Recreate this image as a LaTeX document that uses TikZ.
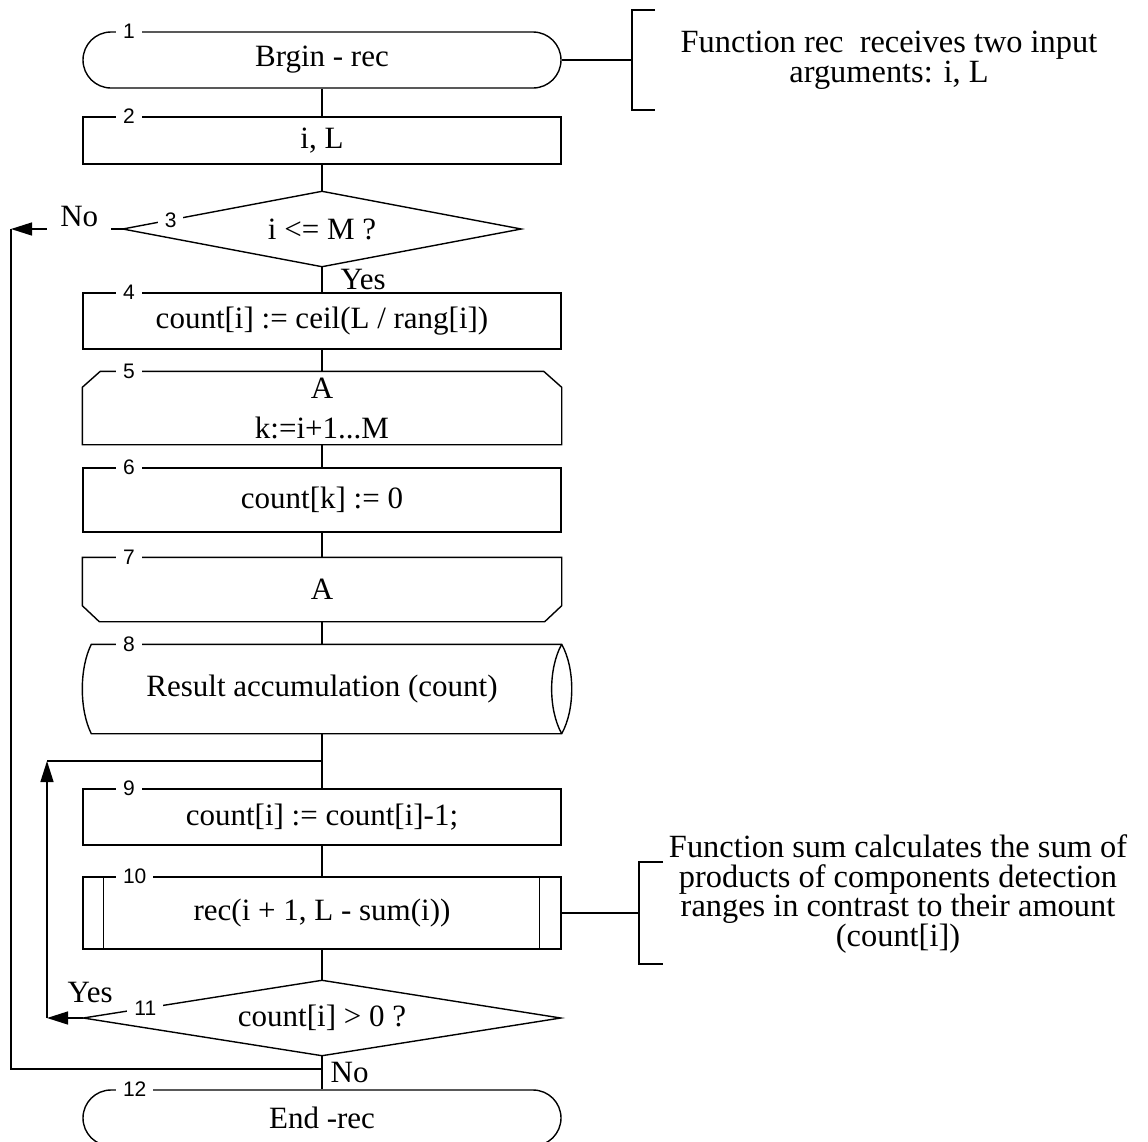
\documentclass[tikz,border=0pt]{standalone}
\usepackage{fontspec}
\setmainfont{Liberation Serif}
\newfontfamily\numfont{Liberation Sans}
\usetikzlibrary{arrows.meta,calc}

\newcommand\boxfont{\fontsize{15.5pt}{20pt}\selectfont}
\newcommand\notefont{\fontsize{16.2pt}{14.8pt}\selectfont}
\newcommand\tagfont{\numfont\fontsize{10.5pt}{11pt}\selectfont}

\begin{document}
\begin{tikzpicture}[x=0.5pt,y=-0.5pt,line width=0.7pt,>={Triangle[length=10.5pt,width=6.5pt]},
  box/.style={rectangle, draw, minimum width=239pt, minimum height=28pt, inner sep=0pt, align=center, font=\boxfont},
  term/.style={box, rounded corners=14pt},
  shell/.style={box, draw=none},
  tag/.style={fill=white, inner xsep=3.5pt, inner ysep=1pt, anchor=west, font=\tagfont},
  lbl/.style={inner sep=1pt, font=\boxfont},
  note/.style={align=center, inner sep=0pt, font=\notefont}]

\useasboundingbox (0,0) rectangle (1148,1142);

% blocks
\node[term] (start) at (322,60) {Brgin - rec};
\node[box, minimum height=23.5pt] (args) at (322,140.5) {i, L};
\node[shell, minimum width=198.5pt, minimum height=37pt] (chk) at (322,229) {i <= M ?};
\node[box] (cnt) at (322,321) {count[i] := ceil(L / rang[i])};
\node[shell, minimum height=36pt] (loopA) at (322,408) {A\\k:=i+1...M};
\node[box, minimum height=32pt] (zero) at (322,500) {count[k] := 0};
\node[shell, minimum height=31.5pt] (endA) at (322,589.5) {A};
\node[shell, minimum height=44pt] (acc) at (322,689) {Result accumulation (count)};
\node[box] (dec) at (322,817) {count[i] := count[i]-1;};
\node[box, minimum height=36pt] (call) at (322,913) {rec(i + 1, L - sum(i))};
\node[shell, minimum width=238pt, minimum height=37pt] (more) at (322,1018) {count[i] > 0 ?};
\node[term] (stop) at (322,1118) {End -rec};

% outlines of the special blocks
\draw (chk.west) -- (chk.north) -- (chk.east) -- (chk.south) -- cycle;
\draw (more.west) -- (more.north) -- (more.east) -- (more.south) -- cycle;
\draw ([yshift=-8pt]loopA.north west) -- ([xshift=9pt]loopA.north west) -- ([xshift=-9pt]loopA.north east)
  -- ([yshift=-8pt]loopA.north east) -- (loopA.south east) -- (loopA.south west) -- cycle;
\draw (endA.north west) -- (endA.north east) -- ([yshift=8pt]endA.south east) -- ([xshift=-8.5pt]endA.south east)
  -- ([xshift=8.5pt]endA.south west) -- ([yshift=8pt]endA.south west) -- cycle;
\draw ([xshift=4.5pt]acc.north west) -- (acc.north east)
  .. controls ([xshift=6.7pt,yshift=-12pt]acc.north east) and ([xshift=6.7pt,yshift=12pt]acc.south east) .. (acc.south east)
  -- ([xshift=4.5pt]acc.south west)
  .. controls ([xshift=-1.5pt,yshift=12pt]acc.south west) and ([xshift=-1.5pt,yshift=-12pt]acc.north west) .. ([xshift=4.5pt]acc.north west) -- cycle;
\draw (acc.north east) .. controls ([xshift=-6.7pt,yshift=-12pt]acc.north east) and ([xshift=-6.7pt,yshift=12pt]acc.south east) .. (acc.south east);
\draw ([xshift=10.5pt]call.north west) -- ([xshift=10.5pt]call.south west);
\draw ([xshift=-11pt]call.north east) -- ([xshift=-11pt]call.south east);

% connectors
\coordinate (jloop) at (322,761);
\coordinate (jend) at (322,1069);
\coordinate (noL) at (11,229);
\coordinate (noB) at (11,1069);
\coordinate (yesL) at (47,1018);
\coordinate (yesT) at (47,761);

\draw (start) -- (args);
\draw (args) -- (chk);
\draw (chk) -- (cnt) node[lbl, pos=1, anchor=south west, xshift=8pt] {Yes};
\draw (cnt) -- (loopA);
\draw (loopA) -- (zero);
\draw (zero) -- (endA);
\draw (endA) -- (acc);
\draw (acc) -- (dec);
\draw (dec) -- (call);
\draw (call) -- (more);
\draw (more) -- node[lbl, anchor=west, xshift=3pt] {No} (stop);

\draw[->] (chk.west) -- node[lbl, fill=white, inner xsep=6.5pt, inner ysep=2pt, pos=0.39, yshift=6.5pt] {No} (noL);
\draw (noL) -- (noB) -- (jend);
\draw[->] (more.west) -- (yesL) node[lbl, anchor=south west, xshift=9pt, yshift=6.5pt] {Yes};
\draw[->] (yesL) -- (yesT);
\draw (yesT) -- (jloop);

% block numbers
\foreach \b/\n in {start/1,args/2,cnt/4,loopA/5,zero/6,endA/7,acc/8,dec/9,call/10,stop/12}
  \node[tag] (n\n) at ([xshift=16.5pt]\b.north west) {\n};
\node[tag, anchor=center] (n3) at ($(chk.west)!0.24!(chk.north)$) {3};
\node[tag, anchor=center] (n11) at ($(more.west)!0.26!(more.north)$) {11};

% comments
\coordinate (br1) at (632,60);
\coordinate (br2) at (639,913);
\draw (start.east) -- (br1);
\draw (br1) ++(23,-50) -- ++(-23,0) -- ++(0,100) -- ++(23,0);
\draw (call.east) -- (br2);
\draw (br2) ++(24,-51) -- ++(-24,0) -- ++(0,102) -- ++(24,0);
\node[note] (note1) at (889,60) {Function rec\ \ receives two input\\arguments: i, L};
\node[note] (note2) at (898,894) {Function sum calculates the sum of\\products of components detection\\ranges in contrast to their amount\\(count[i])};

\end{tikzpicture}
\end{document}
